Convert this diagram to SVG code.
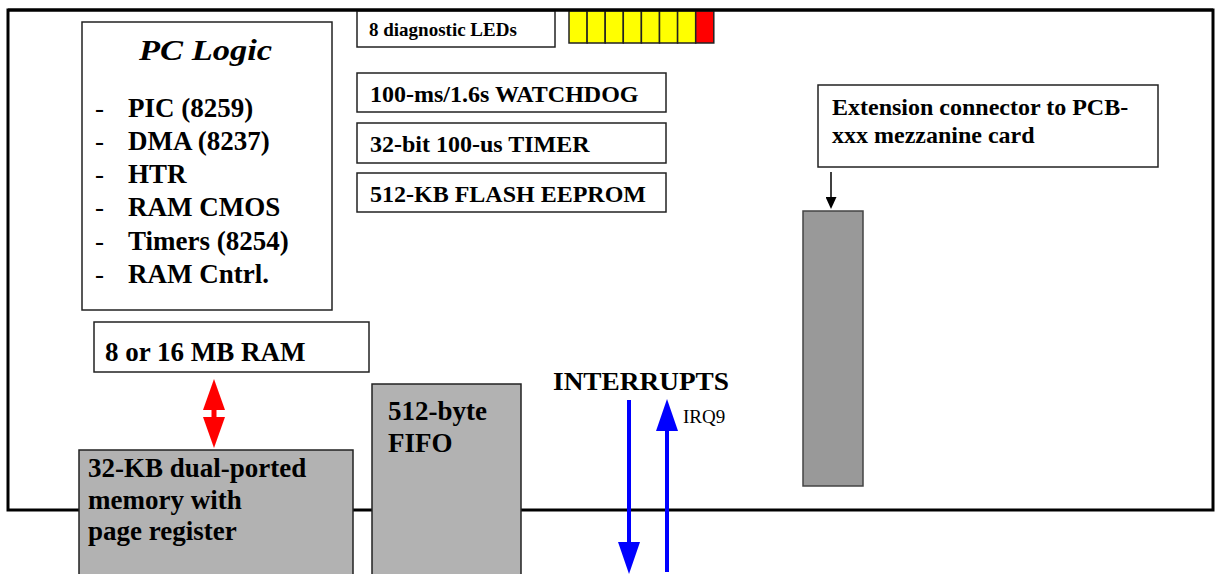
<svg xmlns="http://www.w3.org/2000/svg" width="1217" height="574" viewBox="0 0 1217 574">
<style>
  text { font-family: "Liberation Serif", "Times New Roman", serif; fill: #000; }
  .b { font-weight: bold; }
  .box { fill: #fff; stroke: #222; stroke-width: 1.5; }
  .grey { fill: #b2b2b2; stroke: #222; stroke-width: 1.5; }
  .dark { fill: #999; stroke: #444; stroke-width: 1.5; }
  .led { fill: #ffff00; stroke: #222; stroke-width: 1.5; }
  .ledr { fill: #ff0000; stroke: #222; stroke-width: 1.5; }
</style>
<defs>
  <marker id="blueHead" markerUnits="userSpaceOnUse" viewBox="0 0 32 22" refX="0" refY="11" markerWidth="32" markerHeight="22" orient="auto">
    <path d="M0,0 L32,11 L0,22 z" fill="#0000ff"/>
  </marker>
  <marker id="redHead" markerUnits="userSpaceOnUse" viewBox="0 0 31 22" refX="0" refY="11" markerWidth="31" markerHeight="22" orient="auto-start-reverse">
    <path d="M0,0 L31,11 L0,22 z" fill="#ff0000"/>
  </marker>
  <marker id="blackHead" markerUnits="userSpaceOnUse" viewBox="0 0 12 11" refX="0" refY="5.5" markerWidth="12" markerHeight="11" orient="auto">
    <path d="M0,0 L12,5.5 L0,11 z" fill="#000"/>
  </marker>
</defs>

<rect id="board" x="8" y="10" width="1205" height="500" fill="#fff" stroke="#000" stroke-width="3"/>

<g id="pc-logic">
  <rect class="box" x="82" y="22" width="250" height="288"/>
  <text x="139" y="60" font-size="30" font-weight="bold" font-style="italic" textLength="133" lengthAdjust="spacingAndGlyphs">PC Logic</text>
  <g font-size="27">
    <text x="95" y="117">-</text><text class="b" x="128" y="117">PIC (8259)</text>
    <text x="95" y="150">-</text><text class="b" x="128" y="150">DMA (8237)</text>
    <text x="95" y="183">-</text><text class="b" x="128" y="183">HTR</text>
    <text x="95" y="216">-</text><text class="b" x="128" y="216">RAM CMOS</text>
    <text x="95" y="250">-</text><text class="b" x="128" y="250">Timers (8254)</text>
    <text x="95" y="283">-</text><text class="b" x="128" y="283">RAM Cntrl.</text>
  </g>
</g>

<g id="leds-label">
  <rect class="box" x="357" y="11" width="198" height="36"/>
  <text class="b" x="369" y="36" font-size="19">8 diagnostic LEDs</text>
</g>

<g id="leds">
  <rect class="led" x="569" y="11" width="18.1" height="32"/>
  <rect class="led" x="587.1" y="11" width="18.1" height="32"/>
  <rect class="led" x="605.2" y="11" width="18.1" height="32"/>
  <rect class="led" x="623.3" y="11" width="18.1" height="32"/>
  <rect class="led" x="641.4" y="11" width="18.1" height="32"/>
  <rect class="led" x="659.5" y="11" width="18.1" height="32"/>
  <rect class="led" x="677.6" y="11" width="18.1" height="32"/>
  <rect class="ledr" x="695.7" y="11" width="18.1" height="32"/>
</g>
<line x1="8" y1="10" x2="1213" y2="10" stroke="#000" stroke-width="3"/>

<g id="watchdog">
  <rect class="box" x="357" y="73" width="309" height="39"/>
  <text class="b" x="370" y="102" font-size="24">100-ms/1.6s WATCHDOG</text>
</g>
<g id="timer">
  <rect class="box" x="357" y="123" width="309" height="40"/>
  <text class="b" x="370" y="152" font-size="24">32-bit 100-us TIMER</text>
</g>
<g id="flash">
  <rect class="box" x="357" y="173" width="309" height="39"/>
  <text class="b" x="370" y="202" font-size="24">512-KB FLASH EEPROM</text>
</g>

<g id="extension-label">
  <rect class="box" x="818" y="85" width="340" height="82"/>
  <text class="b" x="832" y="115" font-size="24">Extension connector to PCB-</text>
  <text class="b" x="832" y="143" font-size="24">xxx mezzanine card</text>
</g>
<g id="extension-connector">
  <rect class="dark" x="803" y="211" width="60" height="275"/>
</g>

<g id="ram">
  <rect class="box" x="94" y="322" width="275" height="50"/>
  <text class="b" x="105" y="361" font-size="27">8 or 16 MB RAM</text>
</g>

<g id="dpram">
  <rect class="grey" x="79" y="450" width="274" height="130"/>
  <text class="b" x="88" y="477" font-size="27">32-KB dual-ported</text>
  <text class="b" x="88" y="509" font-size="27">memory with</text>
  <text class="b" x="88" y="540" font-size="27">page register</text>
</g>

<g id="fifo">
  <rect class="grey" x="372" y="384" width="149" height="196"/>
  <text class="b" x="388" y="420" font-size="27">512-byte</text>
  <text class="b" x="388" y="452" font-size="27">FIFO</text>
</g>

<g id="interrupts">
  <text class="b" x="553" y="390" font-size="26" textLength="176" lengthAdjust="spacingAndGlyphs">INTERRUPTS</text>
  <text x="683" y="423" font-size="19">IRQ9</text>
</g>

<g id="connectors">
  <line x1="214" y1="410" x2="214" y2="417" stroke="#ff0000" stroke-width="5" marker-start="url(#redHead)" marker-end="url(#redHead)"/>
  <line x1="629" y1="400" x2="629" y2="542" stroke="#0000ff" stroke-width="4" marker-end="url(#blueHead)"/>
  <line x1="667" y1="572" x2="667" y2="431" stroke="#0000ff" stroke-width="4" marker-end="url(#blueHead)"/>
  <line x1="831" y1="172" x2="831" y2="197" stroke="#000" stroke-width="1.5" marker-end="url(#blackHead)"/>
</g>
</svg>
